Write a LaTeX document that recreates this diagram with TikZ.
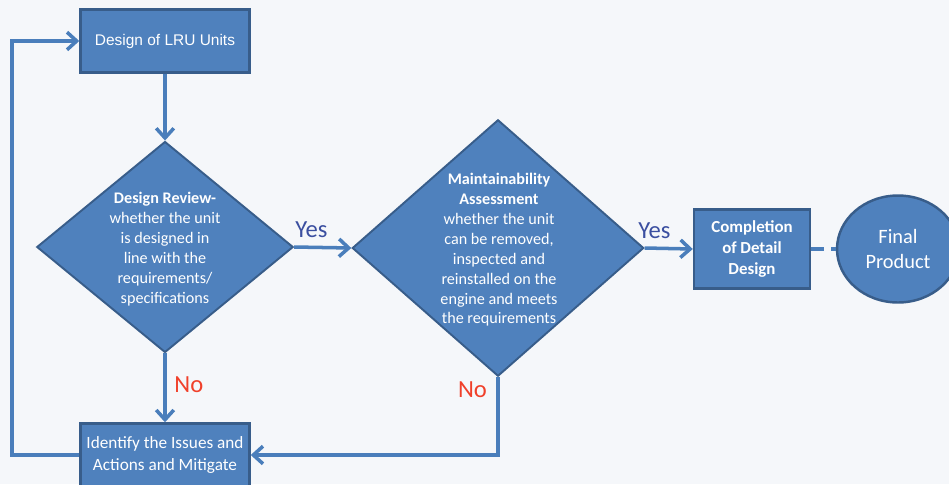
\documentclass[tikz,border=0pt]{standalone}
\usepackage{fontspec}
\setmainfont{Carlito}
\newfontfamily\arialfont{Liberation Sans}
\usetikzlibrary{arrows.meta,calc,positioning,shapes.geometric}
\definecolor{bgcol}{HTML}{F5F7FA}
\definecolor{boxfill}{HTML}{4F81BD}
\definecolor{boxline}{HTML}{385D8A}
\definecolor{flowline}{HTML}{4A7EBB}
\definecolor{yescol}{HTML}{3B4FA0}
\definecolor{nocol}{HTML}{F0402A}
\tikzset{%
	process/.style  = {draw=boxline, line width=1.4pt, fill=boxfill, rectangle, text=white, align=center, inner sep=0pt},
	decision/.style = {draw=boxline, line width=1.1pt, fill=boxfill, diamond, inner sep=0pt},
	dtext/.style    = {text=white, align=center, font=\fontsize{9.2}{11.3}\selectfont},
	final/.style    = {draw=boxline, line width=1.4pt, fill=boxfill, ellipse, text=white, align=center, inner sep=0pt},
	arrow/.style    = {draw=flowline, line width=2pt, -{Straight Barb[length=5.5pt,width=10pt,line width=2pt]}},
	link/.style     = {draw=flowline, line width=2pt},
	yes/.style      = {text=yescol, font=\fontsize{14}{16}\selectfont},
	no/.style       = {text=nocol, font=\fontsize{14}{16}\selectfont},
}
\begin{document}
\begin{tikzpicture}[x=0.02cm,y=-0.02cm]
	\fill[bgcol] (0,0) rectangle (949,484);
	\useasboundingbox (0,0) rectangle (949,484);
	
	\node[process, minimum width=3.38cm, minimum height=1.26cm, font=\arialfont\fontsize{8.8}{10.5}\selectfont] (lru) at (165,41) {Design of LRU Units};
	\node[decision, minimum width=5.13cm, minimum height=4.22cm] (review) at (165,247) {};
	\node[dtext] (reviewtxt) at (165,249) {\textbf{Design Review-}\\whether the unit\\is designed in\\line with the\\requirements/\\specifications};
	\node[decision, minimum width=5.83cm, minimum height=5.13cm] (maint) at (498,248) {};
	\node[dtext] (mainttxt) at (499,250) {\textbf{Maintainability}\\\textbf{Assessment}\\whether the unit\\can be removed,\\inspected and\\reinstalled on the\\engine and meets\\the requirements};
	\node[process, minimum width=2.32cm, minimum height=1.58cm, font=\bfseries\fontsize{9.6}{11.9}\selectfont] (detail) at (752,249) {Completion\\of Detail\\Design};
	\node[final, minimum width=2.44cm, minimum height=2.14cm, font=\fontsize{11.6}{14.2}\selectfont] (product) at (898,249) {Final\\Product};
	\node[process, minimum width=3.38cm, minimum height=1.26cm, font=\fontsize{9.8}{12}\selectfont] (issues) at (165,455) {Identify the Issues and\\Actions and Mitigate};
	
	\coordinate (loop) at (12,455);
	
	\draw[arrow] (lru) -- (review);
	\draw[arrow] (review.east) -- node[yes, above=1pt, pos=0.3] {Yes} (maint.west);
	\draw[arrow] (maint.east) -- node[yes, above=1pt, pos=0.2] {Yes} (detail.west);
	\draw[link, dash pattern=on 7pt off 4.5pt] (detail.east) -- (product.west);
	\draw[arrow] (review.south) -- node[no, right=1pt, pos=0.45] {No} (issues.north);
	\draw[arrow] (maint.south) |- node[no, left=2pt, pos=0.08] {No} (issues.east);
	\draw[arrow] (issues.west) -- (loop) |- (lru.west);
\end{tikzpicture}
\end{document}
